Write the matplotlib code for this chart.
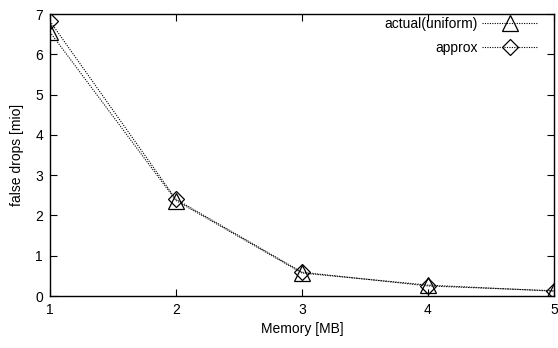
import matplotlib
matplotlib.use("Agg")
import matplotlib.pyplot as plt

# === datos ===
memory_mb = [1, 2, 3, 4, 5]
actual_uniform = [6.55, 2.37, 0.57, 0.27, 0.12]
approx = [6.82, 2.40, 0.59, 0.25, 0.13]

plt.rcParams["font.family"] = ["Liberation Sans", "DejaVu Sans"]
plt.rcParams["font.size"] = 10

fig = plt.figure(figsize=(5.58, 3.48), dpi=100)
ax = fig.add_axes([50 / 558, 1 - 296 / 348, 504 / 558, 282 / 348])

dots = (0, (1, 1.2))
ax.plot(memory_mb, actual_uniform, color="black", linestyle=dots, linewidth=0.8,
        marker="^", markersize=11, markerfacecolor="none", markeredgewidth=0.9,
        label="actual(uniform)")
ax.plot(memory_mb, approx, color="black", linestyle=dots, linewidth=0.8,
        marker="D", markersize=8.5, markerfacecolor="none", markeredgewidth=0.9,
        label="approx")

ax.set_xlim(1, 5)
ax.set_ylim(0, 7)
ax.set_xticks(memory_mb)
ax.set_yticks(range(0, 8))
ax.tick_params(direction="in", length=5, top=True, right=True, width=0.8, pad=5)
for s in ax.spines.values():
    s.set_linewidth(1.0)

ax.set_xlabel("Memory [MB]", labelpad=4)
ax.set_ylabel("false drops [mio]", labelpad=8)

ax.legend(loc="upper right", bbox_to_anchor=(0.968, 0.99), frameon=False,
          markerfirst=False, numpoints=1, handlelength=4.0, handletextpad=0.35,
          labelspacing=0.75, borderaxespad=0, borderpad=0, fontsize=10)

fig.savefig("out.png", dpi=100)
